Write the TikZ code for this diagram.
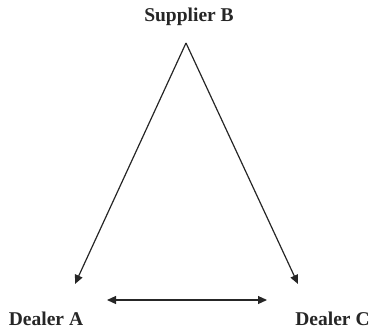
\documentclass[tikz,border=0pt]{standalone}
\usepackage{fontspec}
\setmainfont{Liberation Serif}
\usetikzlibrary{arrows.meta}
\begin{document}
\begin{tikzpicture}[x=1pt,y=1pt,
  lbl/.style={font=\fontsize{19.5}{22}\selectfont\bfseries, inner sep=0pt, text=black!85},
  conn/.style={line width=1.2pt, black!85, -{Triangle[length=9pt,width=8pt]}},
  conn2/.style={line width=1.2pt, black!85, {Triangle[length=9pt,width=8pt]}-{Triangle[length=9pt,width=8pt]}}]
\useasboundingbox (0,0) rectangle (371,333);
\node[lbl] (B) at (189,316) {Supplier B};
\node[lbl] (A) at (46,14) {Dealer A};
\node[lbl] (C) at (332.5,14) {Dealer C};
\coordinate (apex) at (186,290);
\coordinate (atip) at (75,49);
\coordinate (ctip) at (298,49);
\coordinate (hl) at (107,33);
\coordinate (hr) at (267,33);
\draw[conn] (apex) -- (atip);
\draw[conn] (apex) -- (ctip);
\draw[conn2] (hl) -- (hr);
\end{tikzpicture}
\end{document}
